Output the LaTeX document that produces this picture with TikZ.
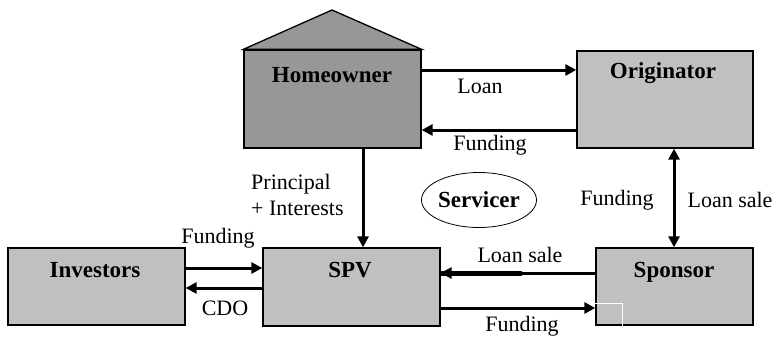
\documentclass[tikz,border=0pt]{standalone}
\usepackage{fontspec}
\setmainfont{Liberation Serif}
\usetikzlibrary{arrows.meta,calc,shapes.geometric}
\definecolor{darkbox}{HTML}{979797}
\definecolor{lightbox}{HTML}{C0C0C0}
\begin{document}
\begin{tikzpicture}[x=1pt,y=-1pt,
  box/.style={draw=black,line width=1.3pt,fill=lightbox,minimum width=#1,inner sep=0pt},
  title/.style={font=\fontsize{23}{27}\selectfont\bfseries,inner sep=0pt},
  lbl/.style={font=\fontsize{22}{26}\selectfont,inner sep=0pt},
  flow/.style={line width=3pt,-{Triangle[length=11pt,width=11pt]}},
  bflow/.style={line width=3pt,{Triangle[length=11pt,width=11pt]}-{Triangle[length=11pt,width=11pt]}}]
\useasboundingbox (0,0) rectangle (778,340);
% boxes
\node[box=177pt,minimum height=98pt,fill=darkbox] (ho) at (332.5,99) {};
\coordinate (apex) at (332,10);
\draw[line width=1.3pt,fill=darkbox,line join=miter] (ho.north west) -- (apex) -- (ho.north east) -- cycle;
\node[box=176pt,minimum height=97pt] (or) at (665,99.5) {};
\node[box=177pt,minimum height=77pt] (inv) at (96.5,286.5) {};
\node[box=177pt,minimum height=78pt] (spv) at (351.5,287) {};
\node[box=157pt,minimum height=77pt] (sp) at (674.5,286.5) {};
\draw[white,line width=1pt] ($(sp.south west)+(27,0)$) |- ($(sp.south west)+(0,-22)$);
% titles
\node[title] (hoT) at (332,75) {Homeowner};
\node[title] (orT) at (663,73) {Originator};
\node[title] (invT) at (95,270) {Investors};
\node[title] (spvT) at (350,270) {SPV};
\node[title] (spT) at (674,272) {Sponsor};
% servicer
\node[draw,line width=0.8pt,ellipse,minimum width=115pt,minimum height=55pt,inner sep=0pt] (sv) at (479,200) {};
\node[title] (svT) at (479,200) {Servicer};
% connectors
\draw[flow] (ho.east |- 0,70) -- (or.west |- 0,70);
\draw[flow] (or.west |- 0,130) -- (ho.east |- 0,130);
\draw[flow] (ho.south -| 363,0) -- (spv.north -| 363,0);
\draw[bflow] (or.south -| 674,0) -- (sp.north -| 674,0);
\draw[flow] (inv.east |- 0,268) -- (spv.west |- 0,268);
\draw[flow] (spv.west |- 0,288) -- (inv.east |- 0,288);
\draw[flow] (sp.west |- 0,273) -- (spv.east |- 0,273);
\draw[line width=4.2pt] (spv.east |- 0,273.5) -- (522,273.5);
\draw[flow] (spv.east |- 0,308) -- (sp.west |- 0,308);
% labels
\node[lbl] (l1) at (480,86) {Loan};
\node[lbl] (l2) at (490,145) {Funding};
\node[lbl,align=left,anchor=west] (l3) at (251,195) {Principal\\+ Interests};
\node[lbl] (l4) at (617,200) {Funding};
\node[lbl] (l5) at (730,200) {Loan sale};
\node[lbl] (l6) at (218,238) {Funding};
\node[lbl] (l7) at (225,308) {CDO};
\node[lbl] (l8) at (520,255) {Loan sale};
\node[lbl] (l9) at (522,326) {Funding};
\end{tikzpicture}
\end{document}
